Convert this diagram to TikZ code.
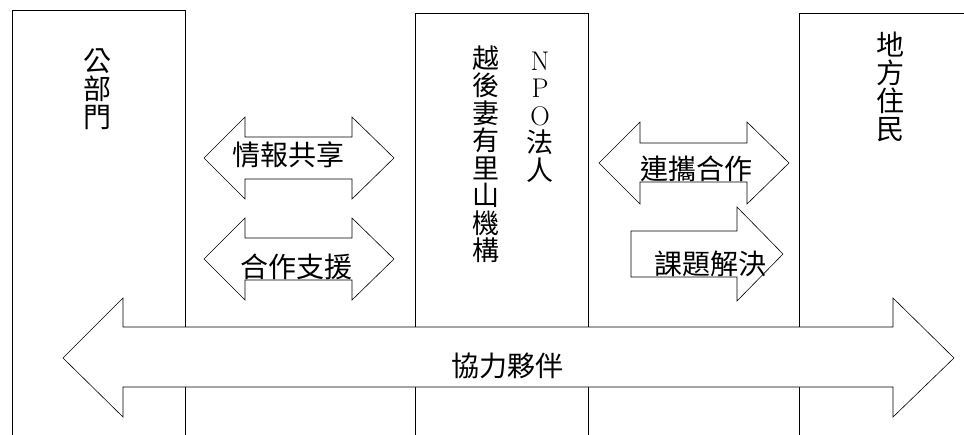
\documentclass[tikz,border=0pt]{standalone}
\usepackage{fontspec}
\newfontfamily\cjk{Noto Sans CJK TC}
\usepackage{tikz}

\begin{document}
\begin{tikzpicture}[x=1pt, y=-1pt, line width=0.6pt,
        ctext/.style={font=\cjk\fontsize{28}{28}\selectfont, align=center, inner sep=0pt},
        vtext/.style={ctext, font=\cjk\fontsize{27}{27.5}\selectfont},
        blk/.style={draw, fill=white}]
    \useasboundingbox (0,0) rectangle (964,434);
    \clip (0,0) rectangle (964,434);
    % the three columns
    \draw (12,10) rectangle (185,450);
    \draw (415,13) rectangle (588,450);
    \draw (799,13) rectangle (980,450);
    \node[ctext] (pub) at (97,89) {公\\部\\門};
    \node[vtext] (npo) at (540,117) {{\rmfamily N}\\{\rmfamily P}\\{\rmfamily O}\\法\\人};
    \node[vtext] (org) at (486,154) {越\\後\\妻\\有\\里\\山\\機\\構};
    \node[ctext] (res) at (890,87) {地\\方\\住\\民};
    % arrows between public sector and NPO
    \foreach \dy in {0, 101}
        \filldraw[blk] (204,158+\dy) -- (245,117+\dy) -- (245,137+\dy) -- (352,137+\dy)
            -- (352,117+\dy) -- (394,158+\dy) -- (352,199+\dy) -- (352,179+\dy)
            -- (245,179+\dy) -- (245,199+\dy) -- cycle;
    \node[ctext] (share) at (288,155) {情報共享};
    \node[ctext] (support) at (296,267) {合作支援};
    % arrows between NPO and residents
    \filldraw[blk] (599,163) -- (640,122) -- (640,143) -- (747,143) -- (747,122) -- (789,163)
        -- (747,204) -- (747,182) -- (640,182) -- (640,204) -- cycle;
    \node[ctext] (link) at (696,169) {連攜合作};
    \filldraw[blk] (631,231) -- (737,231) -- (737,207) -- (783,254) -- (737,301) -- (737,277)
        -- (631,277) -- cycle;
    \node[ctext] (solve) at (710,264) {課題解決};
    % partnership arrow over everything
    \filldraw[blk] (63,358) -- (123,298) -- (123,327) -- (893,327) -- (893,298) -- (954,358)
        -- (893,417) -- (893,387) -- (123,387) -- (123,417) -- cycle;
    \node[ctext] (part) at (507,366) {協力夥伴};
\end{tikzpicture}
\end{document}
